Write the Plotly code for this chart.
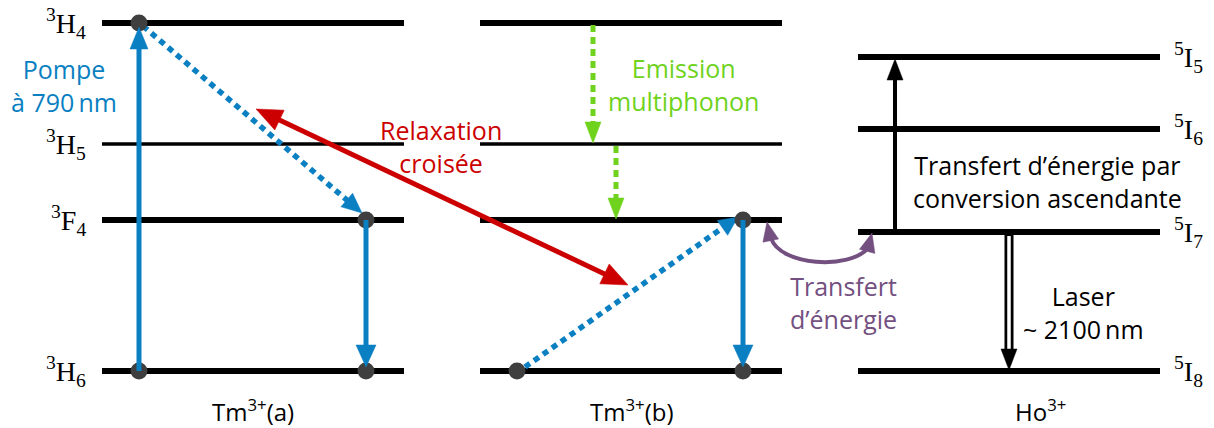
import math
import plotly.graph_objects as go

# ---------------- data (schematic energies, arbitrary units) ----------------
tm_labels = ["<sup>3</sup>H<sub>4</sub>", "<sup>3</sup>H<sub>5</sub>",
             "<sup>3</sup>F<sub>4</sub>", "<sup>3</sup>H<sub>6</sub>"]
tm_energy = [405, 284, 208, 57]
tm_thick = [True, False, True, True]

ho_labels = ["<sup>5</sup>I<sub>5</sub>", "<sup>5</sup>I<sub>6</sub>",
             "<sup>5</sup>I<sub>7</sub>", "<sup>5</sup>I<sub>8</sub>"]
ho_energy = [371, 299, 196, 57]

columns = ["Tm<sup>3+</sup>(a)", "Tm<sup>3+</sup>(b)", "Ho<sup>3+</sup>"]
col_start = [102, 480, 858]
col_end = [404, 782, 1160]
col_label_x = [253, 631, 1040]

# ion sites (horizontal position of transitions within each column)
site_a = [139, 366]
site_b = [517, 743]
site_ho = [895, 1009]

BLUE = "#0a7fc2"
RED = "#cc0000"
GREEN = "#6fd21c"
PURPLE = "#735080"
DOT = "#3f3f3f"
BLACK = "#000000"

shapes = []
annotations = []


def hline(x0, x1, y, w):
    shapes.append(dict(type="line", xref="x", yref="y", x0=x0, x1=x1, y0=y, y1=y,
                       line=dict(color=BLACK, width=w), layer="below"))


def head(tipx, tipy, fromx, fromy, color, L, W, layer="above"):
    dx, dy = tipx - fromx, tipy - fromy
    n = math.hypot(dx, dy)
    ux, uy = dx / n, dy / n
    bx, by = tipx - ux * L, tipy - uy * L
    px_, py_ = -uy, ux
    p1 = (bx + px_ * W, by + py_ * W)
    p2 = (bx - px_ * W, by - py_ * W)
    shapes.append(dict(type="path", xref="x", yref="y",
                       path=f"M {tipx},{tipy} L {p1[0]},{p1[1]} L {p2[0]},{p2[1]} Z",
                       fillcolor=color, line=dict(color=color, width=0.5), layer=layer))
    return bx, by


def arrow(x0, y0, x1, y1, color, width, L, W, dash="solid", both=False, layer="above",
          overlap=3):
    dx, dy = x1 - x0, y1 - y0
    n = math.hypot(dx, dy)
    ux, uy = dx / n, dy / n
    ex, ey = x1 - ux * (L - overlap), y1 - uy * (L - overlap)
    sx, sy = x0, y0
    if both:
        sx, sy = x0 + ux * (L - overlap), y0 + uy * (L - overlap)
    shapes.append(dict(type="line", xref="x", yref="y", x0=sx, y0=sy, x1=ex, y1=ey,
                       line=dict(color=color, width=width, dash=dash), layer=layer))
    head(x1, y1, x0, y0, color, L, W, layer)
    if both:
        head(x0, y0, x1, y1, color, L, W, layer)


# energy level lines
for c in range(2):
    for e, thick in zip(tm_energy, tm_thick):
        hline(col_start[c], col_end[c], e, 6 if thick else 3.5)
for e in ho_energy:
    hline(col_start[2], col_end[2], e, 6)

# dotted / non-radiative arrows (below the population dots)
DOTTED = "6px,5px"
arrow(site_a[0] + 4, tm_energy[0] - 3, site_a[1] - 4, tm_energy[2] + 7, BLUE, 5.5, 20, 9,
      dash=DOTTED, layer="below")
arrow(site_b[0] + 8, tm_energy[3] + 4, site_b[1] - 5, tm_energy[2] + 3, BLUE, 5.5, 19, 9,
      dash=DOTTED, layer="below")

# population dots
dot_x = [site_a[0], site_a[0], site_a[1], site_a[1], site_b[0], site_b[1], site_b[1]]
dot_y = [tm_energy[0], tm_energy[3], tm_energy[2], tm_energy[3],
         tm_energy[3], tm_energy[2], tm_energy[3]]

# solid radiative / pump arrows
arrow(site_a[0], tm_energy[3], site_a[0], tm_energy[0] - 4, BLUE, 5, 22, 9)
arrow(site_a[1], tm_energy[2], site_a[1], tm_energy[3] + 4, BLUE, 5, 22, 10)
arrow(site_b[1], tm_energy[2], site_b[1], tm_energy[3] + 4, BLUE, 5, 22, 10)

# cross relaxation (double headed)
arrow(256, 319, 628, 143, RED, 5, 26, 11, both=True)

# multiphonon emission
arrow(593, tm_energy[0] - 2, 593, tm_energy[1] + 1, GREEN, 5, 21, 8, dash="7px,5px")
arrow(616, tm_energy[1] - 2, 616, tm_energy[2] + 1, GREEN, 5, 21, 8, dash="7px,5px")

# energy transfer (curved)
shapes.append(dict(type="path", xref="x", yref="y",
                   path="M 771,190 C 780,162 850,158 868,180",
                   line=dict(color=PURPLE, width=4), layer="above"))
head(767, 206, 771, 186, PURPLE, 19, 8)
head(872, 195, 867, 176, PURPLE, 19, 8)

# upconversion in Ho
arrow(site_ho[0], ho_energy[2], site_ho[0], ho_energy[0] - 2, BLACK, 4, 21, 8)

# laser hollow arrow
shapes.append(dict(type="line", xref="x", yref="y", x0=site_ho[1], x1=site_ho[1],
                   y0=ho_energy[2] - 1, y1=ho_energy[3] + 19,
                   line=dict(color=BLACK, width=9), layer="above"))
shapes.append(dict(type="line", xref="x", yref="y", x0=site_ho[1], x1=site_ho[1],
                   y0=ho_energy[2] - 4, y1=ho_energy[3] + 22,
                   line=dict(color="white", width=3.5), layer="above"))
head(site_ho[1], ho_energy[3] + 1, site_ho[1], ho_energy[2], BLACK, 21, 8)

fig = go.Figure()
fig.add_trace(go.Scatter(x=dot_x, y=dot_y, mode="markers",
                         marker=dict(size=17, color=DOT), hoverinfo="skip",
                         showlegend=False))

SERIF = "Liberation Serif"
SANS = "Open Sans"

for lab, e in zip(tm_labels, tm_energy):
    annotations.append(dict(x=88, y=e, text=lab, showarrow=False, xanchor="right",
                            yanchor="middle", font=dict(family=SERIF, size=28, color=BLACK)))
for lab, e in zip(ho_labels, ho_energy):
    annotations.append(dict(x=1172, y=e, text=lab, showarrow=False, xanchor="left",
                            yanchor="middle", font=dict(family=SERIF, size=28, color=BLACK)))
for lab, x in zip(columns, col_label_x):
    annotations.append(dict(x=x, y=18, text=lab, showarrow=False, xanchor="center",
                            yanchor="middle", font=dict(family=SANS, size=24, color=BLACK)))

texts = [
    ("Pompe<br>à 790\u2009nm", 64, 343, BLUE),
    ("Relaxation<br>croisée", 441, 282, RED),
    ("Emission<br>multiphonon", 683, 344, GREEN),
    ("Transfert d’énergie par<br>conversion ascendante", 1047, 247, BLACK),
    ("Transfert<br>d’énergie", 843, 126, PURPLE),
    ("Laser<br>~ 2100\u2009nm", 1083, 116, BLACK),
]
for t, x, y, col in texts:
    annotations.append(dict(x=x, y=y, text=t, showarrow=False, xanchor="center",
                            yanchor="middle", align="center",
                            font=dict(family=SANS, size=25, color=col)))

fig.update_layout(
    width=1214, height=428,
    margin=dict(l=0, r=0, t=0, b=0),
    paper_bgcolor="white", plot_bgcolor="white",
    xaxis=dict(range=[0, 1214], visible=False, fixedrange=True),
    yaxis=dict(range=[0, 428], visible=False, fixedrange=True),
    shapes=shapes, annotations=annotations, showlegend=False,
)
fig.write_html("out.html", config={"displayModeBar": False},
               post_script="document.body.style.margin='0';document.body.style.overflow='hidden';")
